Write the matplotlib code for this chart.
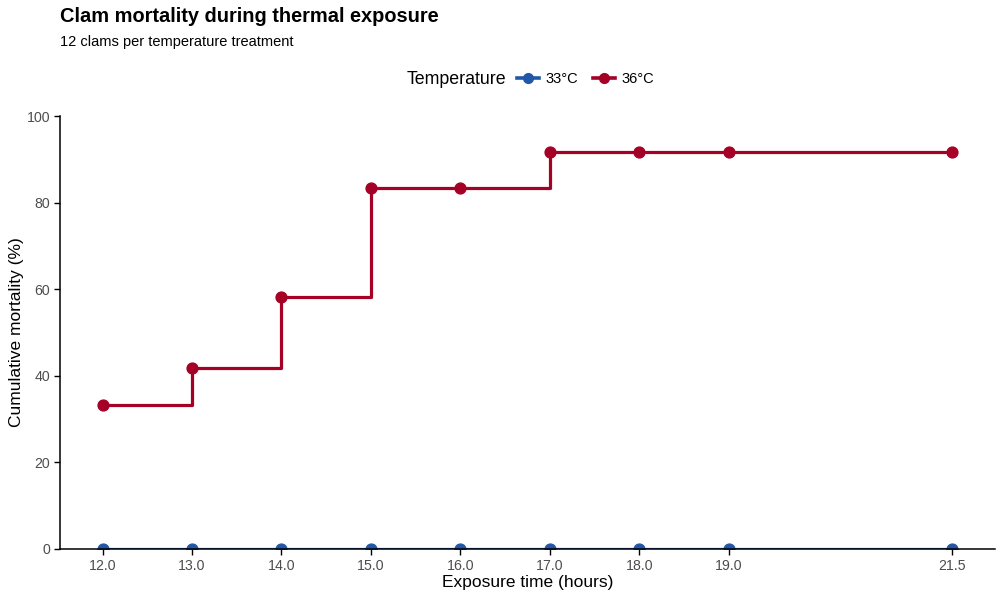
import matplotlib
matplotlib.use("Agg")
import matplotlib.pyplot as plt
from matplotlib.lines import Line2D

plt.rcParams['font.family'] = ['Liberation Sans', 'DejaVu Sans']

# Dados
horas = [12.0, 13.0, 14.0, 15.0, 16.0, 17.0, 18.0, 19.0, 21.5]
mort_33 = [0, 0, 0, 0, 0, 0, 0, 0, 0]
mort_36 = [33.3, 41.7, 58.3, 83.3, 83.3, 91.7, 91.7, 91.7, 91.7]
rotulos_x = ["12.0", "13.0", "14.0", "15.0", "16.0", "17.0", "18.0", "19.0", "21.5"]
series = [("33°C", mort_33, "#2257A8"), ("36°C", mort_36, "#A50026")]

fig = plt.figure(figsize=(10.05, 5.99), dpi=100)
ax = fig.add_axes([60 / 1005, 50 / 599, 935 / 1005, 433 / 599])

for nome, valores, cor in series:
    ax.step(horas, valores, where="post", color=cor, lw=2.3, zorder=3, clip_on=True)
    ax.plot(horas, valores, "o", color=cor, ms=7.8, zorder=4, clip_on=True)

faixa = horas[-1] - horas[0]
ax.set_xlim(horas[0] - 0.05 * faixa, horas[-1] + 0.05 * faixa)
ax.set_ylim(0, 100)
ax.set_xticks(horas)
ax.set_xticklabels(rotulos_x)
ax.set_yticks([0, 20, 40, 60, 80, 100])

for lado in ["top", "right"]:
    ax.spines[lado].set_visible(False)
for lado in ["left", "bottom"]:
    ax.spines[lado].set_linewidth(1.1)
    ax.spines[lado].set_zorder(5)
ax.tick_params(colors="black", labelcolor="#4D4D4D", labelsize=10.2, length=4, width=1.0, pad=3)

ax.set_xlabel("Exposure time (hours)", fontsize=12.5, labelpad=2)
ax.set_ylabel("Cumulative mortality (%)", fontsize=12.5, labelpad=2)

fig.text(60 / 1005, 1 - 17 / 599, "Clam mortality during thermal exposure",
         fontsize=14.4, fontweight="bold", va="center", ha="left")
fig.text(60 / 1005, 1 - 42 / 599, "12 clams per temperature treatment",
         fontsize=10.5, va="center", ha="left")

# Legenda no topo
fig.text(407 / 1005, 1 - 79 / 599, "Temperature", fontsize=12.8, va="center", ha="left")
alcas = [Line2D([], [], color=c, lw=2.6, marker="o", ms=7) for _, _, c in series]
leg = fig.legend(alcas, [s[0] for s in series], loc="center left",
                 bbox_to_anchor=(517 / 1005, 1 - 79 / 599), ncol=2, frameon=False,
                 fontsize=10.5, handlelength=1.5, handletextpad=0.45, columnspacing=1.0,
                 borderaxespad=0, borderpad=0)

fig.savefig("out.png", dpi=100)
